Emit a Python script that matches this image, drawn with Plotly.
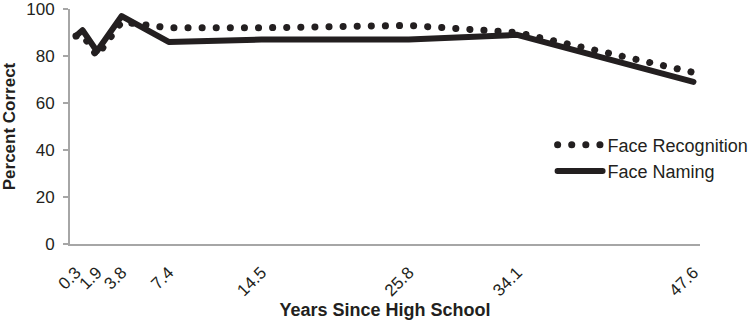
import plotly.graph_objects as go

years = [0.3, 0.8, 1.9, 3.8, 7.4, 14.5, 25.8, 34.1, 47.6]
face_recognition = [88.5, 89, 80, 94.5, 92, 92, 93, 90, 73]
face_naming = [88.5, 91, 82, 97, 86, 87, 87, 89, 69]
tick_years = [0.3, 1.9, 3.8, 7.4, 14.5, 25.8, 34.1, 47.6]
tick_labels = ["0.3", "1.9", "3.8", "7.4", "14.5", "25.8", "34.1", "47.6"]

ink = "#231f20"
axis_gray = "#a6a6a6"
font_family = "Liberation Sans, Arial, sans-serif"

fig = go.Figure()
fig.add_trace(go.Scatter(x=years, y=face_recognition, mode="lines", name="Face Recognition",
                         line=dict(color=ink, width=7, dash="6px,8px")))
fig.add_trace(go.Scatter(x=years, y=face_naming, mode="lines", name="Face Naming",
                         line=dict(color=ink, width=6)))

fig.update_layout(
    width=750, height=323,
    margin=dict(l=70, r=50, t=9, b=79, autoexpand=False),
    paper_bgcolor="white", plot_bgcolor="white",
    font=dict(family=font_family, size=17, color=ink),
    showlegend=True,
    legend=dict(x=0.766, y=0.5, xanchor="left", yanchor="top",
                font=dict(size=18, color=ink), bgcolor="rgba(0,0,0,0)",
                tracegroupgap=0, itemwidth=45),
    xaxis=dict(range=[-0.16, 48.1], tickvals=tick_years, ticktext=tick_labels,
               tickangle=-45, showgrid=False, zeroline=False, automargin=False,
               showline=True, linecolor=axis_gray, linewidth=2, ticks="",
               ticklabelstandoff=10, ticklabeloverflow="allow",
               tickfont=dict(size=17, color=ink),
               title=dict(text="<b>Years Since High School</b>", font=dict(size=18, color=ink), standoff=4)),
    yaxis=dict(range=[0, 100], tickvals=[0, 20, 40, 60, 80, 100], showgrid=False, zeroline=False,
               automargin=False, ticklabeloverflow="allow",
               showline=True, linecolor=axis_gray, linewidth=2, ticks="outside", ticklen=5,
               tickcolor=axis_gray, tickwidth=2, ticklabelstandoff=5,
               tickfont=dict(size=17, color=ink),
               title=dict(text="<b>Percent Correct</b>", font=dict(size=17, color=ink), standoff=12)),
)

post = """
var paths = document.querySelectorAll('.scatterlayer .trace:first-child path.js-line, .legend .traces:first-child path.js-line');
paths.forEach(function(p){p.style.strokeLinecap='round'; p.style.strokeDasharray='0.1px,14px';});
document.querySelectorAll('.scatterlayer .trace path.js-line, .legend path.js-line').forEach(function(p){p.style.strokeLinejoin='round'; if(!p.style.strokeLinecap){p.style.strokeLinecap='round';}});
"""
fig.write_html("out.html", post_script=post)
